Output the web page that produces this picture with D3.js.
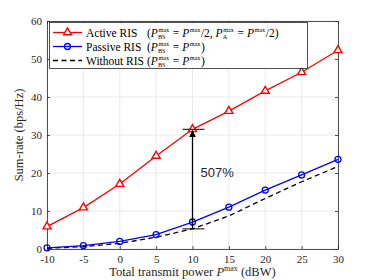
<!DOCTYPE html>
<html>
<head>
<meta charset="utf-8">
<script src="https://cdn.jsdelivr.net/npm/d3@7"></script>
<style>
  body { margin: 0; background: #fff; }
  svg { display: block; }
</style>
</head>
<body>
<div id="chart"></div>
<script>
// data
const power = [-10, -5, 0, 5, 10, 15, 20, 25, 30]
const activeRIS = [5.9, 10.9, 17.1, 24.5, 31.5, 36.3, 41.6, 46.5, 52.3]
const passiveRIS = [0.3, 0.9, 2.0, 3.8, 7.1, 11.0, 15.5, 19.5, 23.6]
const withoutRIS = [0.2, 0.6, 1.5, 3.1, 5.3, 8.7, 13.3, 17.7, 21.7]
const xTicks = [-10, -5, 0, 5, 10, 15, 20, 25, 30]
const yTicks = [0, 10, 20, 30, 40, 50, 60]
const gainLabel = "507%"

const width = 374, height = 280
const plotL = 47, plotR = 338, plotT = 21, plotB = 249
const serif = "'Liberation Serif', 'DejaVu Serif', serif"
const axisColor = "#262626"

const svg = d3.select("#chart").append("svg")
  .attr("width", width)
  .attr("height", height)

const x = d3.scaleLinear().domain([-10, 30]).range([plotL, plotR])
const y = d3.scaleLinear().domain([0, 60]).range([plotB, plotT])

// grid
svg.append("g").selectAll("line").data(xTicks).enter().append("line")
  .attr("x1", d => x(d)).attr("x2", d => x(d))
  .attr("y1", plotT).attr("y2", plotB)
  .attr("stroke", "#e6e6e6").attr("stroke-width", 0.8)
svg.append("g").selectAll("line").data(yTicks).enter().append("line")
  .attr("y1", d => y(d)).attr("y2", d => y(d))
  .attr("x1", plotL).attr("x2", plotR)
  .attr("stroke", "#e6e6e6").attr("stroke-width", 0.8)

// axes (ticks pointing inward, like matlab)
const fmt = d => String(d)
const xAxis = d3.axisBottom(x).tickValues(xTicks).tickFormat(fmt).tickSizeInner(-3).tickSizeOuter(0).tickPadding(6)
const yAxis = d3.axisLeft(y).tickValues(yTicks).tickFormat(fmt).tickSizeInner(-3).tickSizeOuter(0).tickPadding(5)
const xTop = d3.axisTop(x).tickValues(xTicks).tickSizeInner(-3).tickSizeOuter(0).tickFormat("")
const yRight = d3.axisRight(y).tickValues(yTicks).tickSizeInner(-3).tickSizeOuter(0).tickFormat("")

function styleAxis(g) {
  g.select(".domain").attr("stroke", axisColor).attr("stroke-width", 0.8)
  g.selectAll(".tick line").attr("stroke", axisColor).attr("stroke-width", 0.8)
  g.selectAll(".tick text").attr("fill", axisColor)
    .style("font-family", serif).style("font-size", "11px")
}

svg.append("g").attr("transform", `translate(0,${plotB})`).call(xAxis).call(styleAxis)
svg.append("g").attr("transform", `translate(${plotL},0)`).call(yAxis).call(styleAxis)
svg.append("g").attr("transform", `translate(0,${plotT})`).call(xTop).call(styleAxis)
svg.append("g").attr("transform", `translate(${plotR},0)`).call(yRight).call(styleAxis)

// series
const line = d3.line().x(d => x(d[0])).y(d => y(d[1]))
const zip = vals => power.map((p, i) => [p, vals[i]])

svg.append("path").datum(zip(withoutRIS))
  .attr("d", line).attr("fill", "none")
  .attr("stroke", "#000").attr("stroke-width", 1.3).attr("stroke-dasharray", "5,3.5")

svg.append("path").datum(zip(passiveRIS))
  .attr("d", line).attr("fill", "none")
  .attr("stroke", "#0000ff").attr("stroke-width", 1.3)
svg.append("g").selectAll("circle").data(zip(passiveRIS)).enter().append("circle")
  .attr("cx", d => x(d[0])).attr("cy", d => y(d[1])).attr("r", 3)
  .attr("fill", "none").attr("stroke", "#0000ff").attr("stroke-width", 1.3)

svg.append("path").datum(zip(activeRIS))
  .attr("d", line).attr("fill", "none")
  .attr("stroke", "#ff0000").attr("stroke-width", 1.3)
const tri = d3.symbol().type(d3.symbolTriangle).size(28)
svg.append("g").selectAll("path").data(zip(activeRIS)).enter().append("path")
  .attr("d", tri)
  .attr("transform", d => `translate(${x(d[0])},${y(d[1])})`)
  .attr("fill", "#fff")
  .attr("stroke", "#ff0000").attr("stroke-width", 1.4)

// 507% annotation at P = 10
const ax = x(10)
const yTop = y(activeRIS[4]), yBot = y(withoutRIS[4])
svg.append("defs").append("marker")
  .attr("id", "head").attr("viewBox", "0 0 10 10")
  .attr("refX", 10).attr("refY", 5)
  .attr("markerWidth", 7).attr("markerHeight", 7)
  .attr("markerUnits", "userSpaceOnUse")
  .attr("orient", "auto")
  .append("path").attr("d", "M0,0 L10,5 L0,10 z").attr("fill", "#000")
svg.append("line")
  .attr("x1", ax).attr("x2", ax).attr("y1", yBot).attr("y2", yTop + 1)
  .attr("stroke", "#000").attr("stroke-width", 1.3)
  .attr("marker-end", "url(#head)")
svg.append("line").attr("x1", ax - 10).attr("x2", ax + 12)
  .attr("y1", yTop).attr("y2", yTop).attr("stroke", "#000").attr("stroke-width", 1)
svg.append("line").attr("x1", ax - 10).attr("x2", ax + 12)
  .attr("y1", yBot).attr("y2", yBot).attr("stroke", "#000").attr("stroke-width", 1)
svg.append("text")
  .attr("x", ax + 8).attr("y", y(20.3) + 5)
  .style("font-family", "'Liberation Sans', Arial, sans-serif")
  .style("font-size", "13px").attr("fill", "#262626")
  .text(gainLabel)

// axis labels
svg.append("text")
  .attr("transform", `translate(23,${(plotT + plotB) / 2}) rotate(-90)`)
  .attr("text-anchor", "middle")
  .style("font-family", serif).style("font-size", "12.5px").attr("fill", axisColor)
  .text("Sum-rate (bps/Hz)")

const xl = svg.append("text")
  .attr("x", (plotL + plotR) / 2).attr("y", 276)
  .attr("text-anchor", "middle")
  .style("font-family", serif).style("font-size", "12.5px").attr("fill", axisColor)
xl.append("tspan").text("Total transmit power ")
xl.append("tspan").style("font-style", "italic").text("P")
xl.append("tspan").attr("dy", -5).style("font-size", "8px").text("max")
xl.append("tspan").attr("dy", 5).text(" (dBW)")

// legend
const lg = svg.append("g")
lg.append("rect")
  .attr("x", 49.5).attr("y", 22.5).attr("width", 258).attr("height", 46)
  .attr("fill", "#fff").attr("stroke", axisColor).attr("stroke-width", 0.8)

const rowY = [32.5, 46.5, 60.5]
const rows = [
  { name: "Active RIS", color: "#ff0000", mark: "tri", dash: null },
  { name: "Passive RIS", color: "#0000ff", mark: "circle", dash: null },
  { name: "Without RIS", color: "#000", mark: null, dash: "5,3.5" }
]

// lay out a run of pieces one after another, measuring each one
const fs = 11.5, fsSmall = 6.2
function put(xx, yy, str, size, italic) {
  const el = lg.append("text").attr("x", xx).attr("y", yy)
    .style("font-family", serif).style("font-size", size + "px")
    .style("font-style", italic ? "italic" : "normal")
    .attr("fill", "#000").text(str)
  return el.node().getComputedTextLength()
}
// P with "max" above and an optional subscript under it
function pmax(xx, yy, sub) {
  const w = put(xx, yy, "P", fs, true)
  xx += w
  const a = put(xx + 0.6, yy - 5, "max", fsSmall, false)
  let b = 0
  if (sub) b = put(xx, yy + 2, sub, fsSmall, false)
  return w + Math.max(a + 0.6, b) + 0.5
}
function formula(xx, yy, parts) {
  parts.forEach(p => {
    if (p === "=") xx += put(xx + 3, yy, "=", fs, false) + 6
    else if (typeof p === "string") xx += put(xx, yy, p, fs, false)
    else xx += pmax(xx, yy, p.sub)
  })
}

rows.forEach((r, i) => {
  const yy = rowY[i]
  lg.append("line").attr("x1", 53).attr("x2", 82).attr("y1", yy).attr("y2", yy)
    .attr("stroke", r.color).attr("stroke-width", 1.3)
    .attr("stroke-dasharray", r.dash)
  if (r.mark === "tri") {
    lg.append("path").attr("d", tri).attr("transform", `translate(67.5,${yy})`)
      .attr("fill", "#fff")
      .attr("stroke", r.color).attr("stroke-width", 1.4)
  } else if (r.mark === "circle") {
    lg.append("circle").attr("cx", 67.5).attr("cy", yy).attr("r", 3)
      .attr("fill", "none").attr("stroke", r.color).attr("stroke-width", 1.3)
  }
  put(86, yy + 4, r.name, fs, false)
})

formula(147, rowY[0] + 4, ["(", { sub: "BS" }, "=", { sub: null }, "/2,\u00a0", { sub: "A" }, "=", { sub: null }, "/2)"])
formula(147, rowY[1] + 4, ["(", { sub: "BS" }, "=", { sub: null }, ")"])
formula(147, rowY[2] + 4, ["(", { sub: "BS" }, "=", { sub: null }, ")"])
</script>
</body>
</html>
